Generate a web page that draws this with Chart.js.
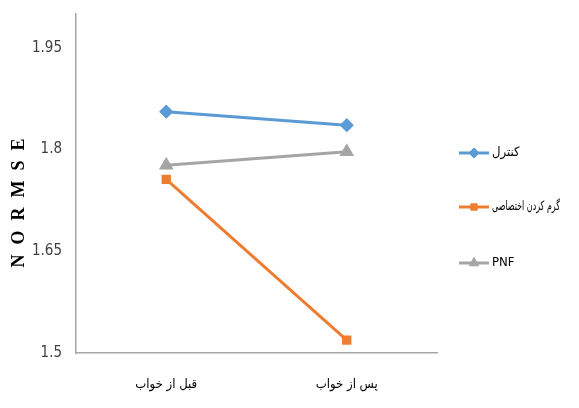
<!DOCTYPE html>
<html lang="fa">
<head>
    <meta charset="UTF-8">
    <title>NORMSE</title>
    <script src="https://cdn.jsdelivr.net/npm/chart.js"></script>
    <style>
        html, body { margin: 0; padding: 0; background: #fff; }
        #wrap { width: 579px; height: 408px; }
    </style>
</head>
<body>
    <div id="wrap"><canvas id="chart" width="579" height="408"></canvas></div>
    <script>
    // داده‌ها
    const categories = ['قبل از خواب', 'پس از خواب'];
    const seriesNames = ['کنترل', 'گرم کردن اختصاصی', 'PNF'];
    const controlValues = [1.856, 1.836];
    const warmupValues = [1.756, 1.519];
    const pnfValues = [1.777, 1.797];
    const yTicks = [1.5, 1.65, 1.8, 1.95];

    const narrowFont = "'Liberation Sans Narrow', 'DejaVu Sans Condensed', sans-serif";
    const arabicFont = "'DejaVu Sans Condensed', 'DejaVu Sans', sans-serif";

    // عنوان محور عمودی با فاصله حروف
    const yTitlePlugin = {
        id: 'yTitle',
        afterDraw(chart) {
            const ctx = chart.ctx;
            ctx.save();
            ctx.font = "bold 18px 'Liberation Serif', serif";
            ctx.letterSpacing = '10px';
            const w = ctx.measureText('NORMSE').width - 10;
            ctx.translate(19, 203);
            ctx.rotate(-Math.PI / 2);
            ctx.fillStyle = '#000';
            ctx.textAlign = 'left';
            ctx.textBaseline = 'middle';
            ctx.fillText('NORMSE', -w / 2, 0);
            ctx.restore();
        }
    };

    // راهنما: خط با نشانگر
    const legendPlugin = {
        id: 'lineLegend',
        afterDraw(chart) {
            const ctx = chart.ctx;
            const rows = [153, 207, 263];
            chart.data.datasets.forEach((ds, i) => {
                const y = rows[i];
                ctx.save();
                ctx.strokeStyle = ds.borderColor;
                ctx.fillStyle = ds.borderColor;
                ctx.lineWidth = 3;
                ctx.beginPath();
                ctx.moveTo(459, y);
                ctx.lineTo(489, y);
                ctx.stroke();
                ctx.lineWidth = 1;
                Chart.helpers.drawPoint(ctx, {
                    pointStyle: ds.pointStyle,
                    radius: ds.pointRadius,
                    borderWidth: 1
                }, 474, y);
                ctx.fillStyle = '#000';
                ctx.font = '13px ' + arabicFont;
                ctx.textAlign = 'left';
                ctx.textBaseline = 'middle';
                ctx.fillText(ds.label, 492, y, 68);
                ctx.restore();
            });
        }
    };

    function series(label, values, color, style, radius) {
        return {
            label: label,
            data: values,
            borderColor: color,
            backgroundColor: color,
            pointBackgroundColor: color,
            pointBorderColor: color,
            borderWidth: 3,
            pointStyle: style,
            pointRadius: radius,
            pointHoverRadius: radius,
            tension: 0
        };
    }

    const ctx = document.getElementById('chart').getContext('2d');
    const chart = new Chart(ctx, {
        type: 'line',
        data: {
            labels: categories,
            datasets: [
                series(seriesNames[0], controlValues, '#5B9BD5', 'rectRot', 5),
                series(seriesNames[1], warmupValues, '#ED7D31', 'rect', 4.5),
                series(seriesNames[2], pnfValues, '#A5A5A5', 'triangle', 5.5)
            ]
        },
        options: {
            responsive: false,
            animation: false,
            layout: { padding: { top: 14, right: 142, bottom: 0, left: 0 } },
            plugins: {
                legend: { display: false },
                tooltip: { enabled: false }
            },
            scales: {
                x: {
                    offset: true,
                    grid: { display: false, drawTicks: false },
                    border: { display: true, color: '#A6A6A6', width: 1.5 },
                    ticks: {
                        padding: 24,
                        color: '#000',
                        font: { family: arabicFont, size: 13 }
                    },
                    afterFit(scale) {
                        scale.height = 55;
                        scale.paddingLeft = 0;
                        scale.paddingRight = 0;
                    }
                },
                y: {
                    min: 1.5,
                    max: 2.0,
                    grid: { display: false, drawTicks: false },
                    border: { display: true, color: '#A6A6A6', width: 1.5 },
                    ticks: {
                        padding: 14,
                        color: '#404040',
                        font: { family: narrowFont, size: 15 },
                        callback: v => String(v)
                    },
                    afterBuildTicks(scale) {
                        scale.ticks = yTicks.map(v => ({ value: v }));
                    },
                    afterFit(scale) {
                        scale.width = 76;
                        scale.paddingTop = 0;
                        scale.paddingBottom = 0;
                    }
                }
            }
        },
        plugins: [yTitlePlugin, legendPlugin]
    });
    </script>
</body>
</html>
